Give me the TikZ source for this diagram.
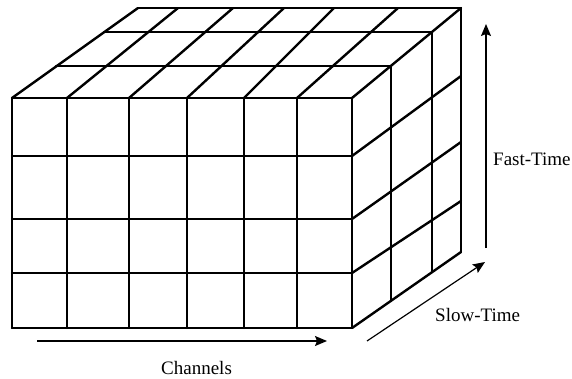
\documentclass[tikz,border=0pt]{standalone}
\usepackage{fontspec}
\setmainfont{Liberation Serif}
\usetikzlibrary{arrows.meta}

\begin{document}
\begin{tikzpicture}[x=1pt, y=-1pt, font=\fontsize{19}{22}\selectfont,
  cubeline/.style={line width=2.4pt, line cap=round, line join=round},
  axis/.style={line width=1.2pt, -{Stealth[length=12pt, width=10pt, inset=2pt]}},
  label/.style={inner sep=0pt}]
\useasboundingbox (0,0) rectangle (572,378);

% front face
\foreach \x in {12, 67, 129, 187, 244, 297, 352}
  \draw[cubeline] (\x,98) -- (\x,328);
\foreach \y in {98, 156, 219, 273, 328}
  \draw[cubeline] (12,\y) -- (352,\y);

% top face
\foreach \f/\b in {12/138, 67/178, 129/233, 187/284, 244/334, 297/398, 352/461}
  \draw[cubeline] (\f,98) -- (\b,8);
\draw[cubeline] (56,66) -- (391,66);
\draw[cubeline] (104,32) -- (432,32);
\draw[cubeline] (138,8) -- (461,8);

% right face
\foreach \x/\t/\b in {391/66/301, 432/32/272, 461/8/252}
  \draw[cubeline] (\x,\t) -- (\x,\b);
\foreach \f/\b in {156/76, 219/142, 273/201, 328/252}
  \draw[cubeline] (352,\f) -- (461,\b);

% axes
\coordinate (chstart) at (37,341);
\coordinate (chend) at (327,341);
\coordinate (slstart) at (367,341);
\coordinate (slend) at (485,262);
\coordinate (fastart) at (486,248);
\coordinate (faend) at (486,24);
\draw[axis] (chstart) -- (chend);
\draw[axis] (slstart) -- (slend);
\draw[axis] (fastart) -- (faend);

\node[label, anchor=base west] (channels) at (161,374) {Channels};
\node[label, anchor=base west] (slowtime) at (435,321) {Slow-Time};
\node[label, anchor=base west] (fasttime) at (493,165) {Fast-Time};
\end{tikzpicture}
\end{document}
